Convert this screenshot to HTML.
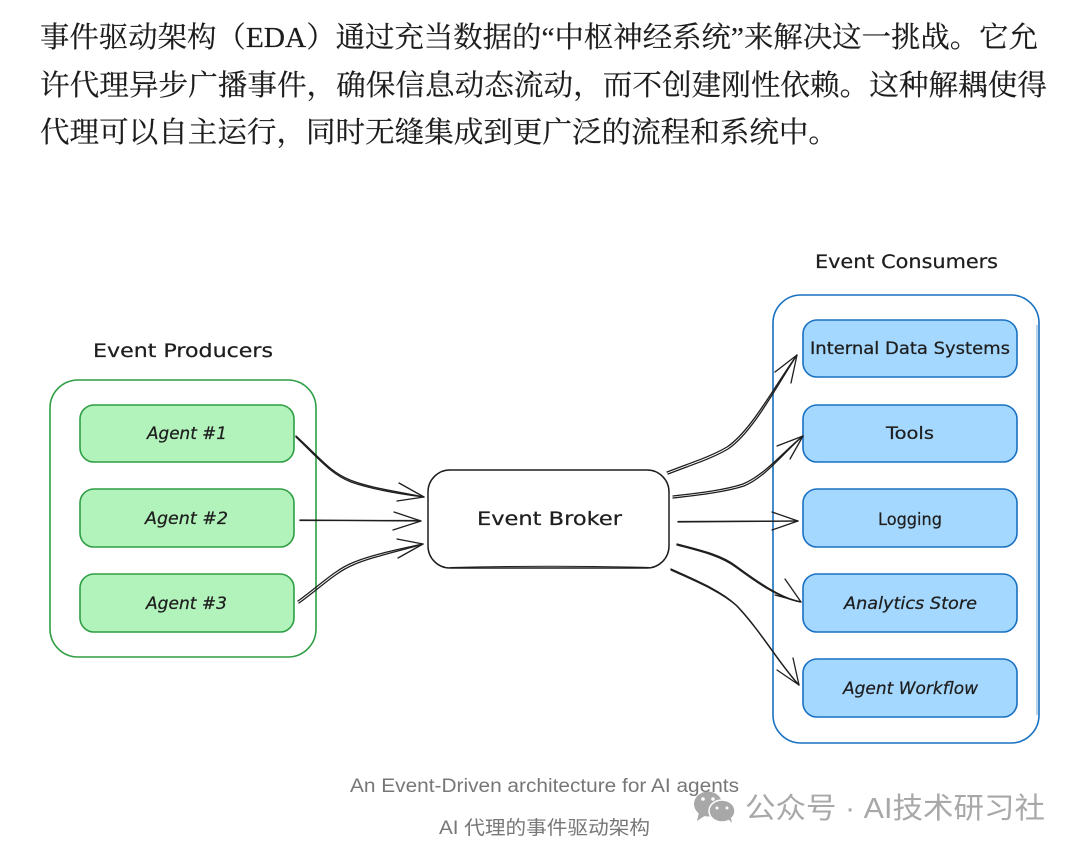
<!DOCTYPE html>
<html><head><meta charset="utf-8"><style>
html,body{margin:0;padding:0;background:#fff;width:1080px;height:851px;overflow:hidden}
svg{display:block}
.b{font-family:"Liberation Serif","Noto Serif CJK SC",serif;font-size:29px;fill:#1c1c1c;stroke:#1c1c1c;stroke-width:.2px}
.h{font-family:"DejaVu Sans","Liberation Sans",sans-serif;fill:#1e1e1e;stroke:#1e1e1e;stroke-width:.25px;text-anchor:start}
.c{font-family:"Liberation Sans","Noto Sans CJK SC",sans-serif;font-size:19px;fill:#777}
.w{font-family:"Liberation Sans","Noto Sans CJK SC",sans-serif;font-size:29px;fill:#a8a8a8}
.a path{fill:none;stroke:#1e1e1e;stroke-width:1.3;stroke-linecap:round;stroke-linejoin:round}
</style></head><body>
<svg width="1080" height="851" viewBox="0 0 1080 851" xmlns="http://www.w3.org/2000/svg">
<rect width="1080" height="851" fill="#fff"/>
<text class="b" x="40" y="47" textLength="998" lengthAdjust="spacingAndGlyphs">事件驱动架构（EDA）通过充当数据的“中枢神经系统”来解决这一挑战。它允</text>
<text class="b" x="40" y="95" textLength="1007" lengthAdjust="spacingAndGlyphs">许代理异步广播事件，确保信息动态流动，而不创建刚性依赖。这种解耦使得</text>
<text class="b" x="40" y="142" textLength="798" lengthAdjust="spacingAndGlyphs">代理可以自主运行，同时无缝集成到更广泛的流程和系统中。</text>

<g fill="none" stroke="#2f9e44" stroke-width="1.6">
<rect x="50" y="380" width="266" height="277" rx="28"/>
<g fill="#b2f2bb">
<rect x="80" y="405" width="214" height="57" rx="14"/>
<rect x="80" y="489" width="214" height="58" rx="14"/>
<rect x="80" y="574" width="214" height="58" rx="14"/>
</g></g>
<g fill="none" stroke="#1971c2" stroke-width="1.6">
<rect x="773" y="295" width="266" height="448" rx="28"/>
<path d="M1037 325V715" stroke-width="1" opacity=".6"/>
<g fill="#a5d8ff">
<rect x="803" y="320" width="214" height="57" rx="14"/>
<rect x="803" y="405" width="214" height="57" rx="14"/>
<rect x="803" y="489" width="214" height="58" rx="14"/>
<rect x="803" y="574" width="214" height="58" rx="14"/>
<rect x="803" y="659" width="214" height="58" rx="14"/>
</g></g>
<rect x="428" y="470" width="241" height="98" rx="22" fill="#fff" stroke="#1e1e1e" stroke-width="1.5"/>
<path d="M450 567.500Q550 565 650 567.500" fill="none" stroke="#1e1e1e" stroke-width="1"/>

<g class="a">
<path d="M296 436C320 458 330 472 350 480C370 488 400 492 424 497"/>
<path d="M296 437C320 460 331 474 351 482C371 489 400 494 424 497"/>
<path d="M399 483L424 497L397 501"/>
<path d="M300 520L421 521"/><path d="M300 520.500L420 520.500"/>
<path d="M394 512L421 521L393 530"/>
<path d="M298 601C320 585 335 570 352 563C370 555 400 549 423 544"/>
<path d="M299 603C321 587 336 572 353 565C371 557 400 551 423 544"/>
<path d="M397 539L423 544L398 558"/>
<path d="M667 472C690 463 710 457 727 447C752 430 775 385 797 355"/>
<path d="M668 474C691 465 711 459 728 449C753 432 776 387 797 355"/>
<path d="M775 372L797 355L791 383"/>
<path d="M673 496C700 493 725 490 743 484C765 475 785 450 803 436"/>
<path d="M673 498C700 495 725 492 744 486C766 477 785 451 803 436"/>
<path d="M777 446L803 436L790 459"/>
<path d="M678 522L798 521"/><path d="M678 521.500L798 521"/>
<path d="M772 512L798 521L772 530"/>
<path d="M677 544C700 550 722 555 736 566C755 580 780 598 801 602"/>
<path d="M677 545C700 551 722 556 737 568C756 582 780 599 801 602"/>
<path d="M785 579L801 602L775 595"/>
<path d="M671 569C695 580 720 590 736 605C760 630 780 665 799 685"/>
<path d="M671 570C695 581 720 591 737 606C761 631 781 666 799 685"/>
<path d="M793 658L799 685L777 670"/>
</g>

<g class="h" font-size="19">
<text x="93" y="357" textLength="180" lengthAdjust="spacingAndGlyphs">Event Producers</text>
<text x="815" y="268" textLength="183" lengthAdjust="spacingAndGlyphs">Event Consumers</text>
<text x="477" y="525" textLength="145" lengthAdjust="spacingAndGlyphs">Event Broker</text>
</g>
<g class="h" font-size="17" style="font-style:italic">
<text x="147" y="439" textLength="80" lengthAdjust="spacingAndGlyphs">Agent #1</text>
<text x="145" y="524" textLength="83" lengthAdjust="spacingAndGlyphs">Agent #2</text>
<text x="146" y="609" textLength="81" lengthAdjust="spacingAndGlyphs">Agent #3</text>
<text x="844" y="609" textLength="133" lengthAdjust="spacingAndGlyphs">Analytics Store</text>
<text x="843" y="694" textLength="135" lengthAdjust="spacingAndGlyphs">Agent Workflow</text>
</g>
<g class="h" font-size="17">
<text x="810" y="354" textLength="200" lengthAdjust="spacingAndGlyphs">Internal Data Systems</text>
<text x="886" y="439" textLength="48" lengthAdjust="spacingAndGlyphs">Tools</text>
<text x="878" y="525" textLength="64" lengthAdjust="spacingAndGlyphs">Logging</text>
</g>

<text class="c" x="350" y="792" textLength="389" lengthAdjust="spacingAndGlyphs">An Event-Driven architecture for AI agents</text>
<text class="c" x="439" y="834" textLength="211" lengthAdjust="spacingAndGlyphs">AI 代理的事件驱动架构</text>

<g fill="#a8a8a8">
<ellipse cx="708" cy="804" rx="14" ry="12.500"/>
<path d="M699 812L697 821L706 815Z"/>
<ellipse cx="722" cy="811" rx="13" ry="11" stroke="#fff" stroke-width="1.500"/>
<path d="M728 819L732 823L730 814Z"/>
<circle cx="703" cy="799" r="1.800" fill="#fff"/><circle cx="713" cy="799" r="1.800" fill="#fff"/>
<circle cx="717" cy="808" r="1.500" fill="#fff"/><circle cx="727" cy="808" r="1.500" fill="#fff"/>
</g>
<text class="w" x="745" y="818" textLength="300" lengthAdjust="spacingAndGlyphs">公众号 · AI技术研习社</text>
</svg>
</body></html>
